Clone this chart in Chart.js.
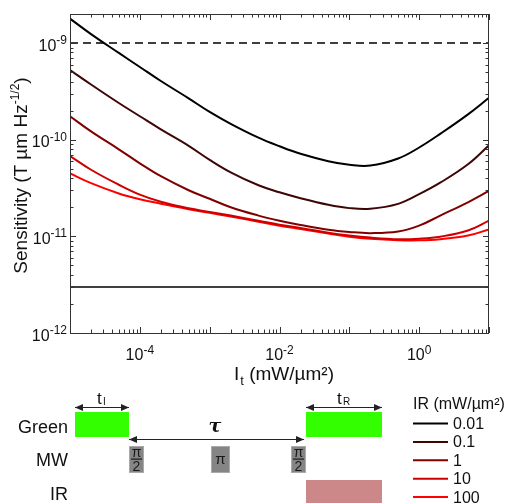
<!DOCTYPE html>
<html>
<head>
<meta charset="utf-8">
<script src="https://cdn.jsdelivr.net/npm/chart.js@4"></script>
<style>
  body { margin: 0; background: #fff; }
  #chart { display: block; }
</style>
</head>
<body>
<canvas id="chart" width="511" height="503"></canvas>
<script>
const intensity = [1e-5, 2e-5, 5e-5, 1e-4, 2e-4, 5e-4, 1e-3, 2e-3, 5e-3, 1e-2, 2e-2, 5e-2, 0.1, 0.2, 0.5, 1, 2, 5, 10];

// Sensibilité (T µm Hz^-1/2) pour chaque puissance IR
const sens001 = [1.79e-9, 1.24e-9, 7.91e-10, 5.66e-10, 4.05e-10, 2.68e-10, 1.94e-10, 1.46e-10, 1.05e-10, 8.55e-11, 7.15e-11, 6.0e-11, 5.51e-11, 5.40e-11, 6.39e-11, 8.31e-11, 1.15e-10, 1.83e-10, 2.72e-10];
const sens01 = [5.27e-10, 3.73e-10, 2.40e-10, 1.75e-10, 1.28e-10, 8.65e-11, 6.19e-11, 4.60e-11, 3.38e-11, 2.86e-11, 2.48e-11, 2.12e-11, 1.96e-11, 1.93e-11, 2.17e-11, 2.73e-11, 3.59e-11, 5.57e-11, 8.75e-11];
const sens1 = [1.75e-10, 1.22e-10, 7.96e-11, 5.70e-11, 4.19e-11, 3.00e-11, 2.45e-11, 2.00e-11, 1.64e-11, 1.45e-11, 1.31e-11, 1.17e-11, 1.11e-11, 1.08e-11, 1.12e-11, 1.29e-11, 1.64e-11, 2.25e-11, 2.95e-11];
const sens10 = [6.79e-11, 4.89e-11, 3.42e-11, 2.70e-11, 2.28e-11, 1.95e-11, 1.79e-11, 1.64e-11, 1.45e-11, 1.32e-11, 1.22e-11, 1.09e-11, 1.02e-11, 9.71e-12, 9.35e-12, 9.46e-12, 9.93e-12, 1.15e-11, 1.45e-11];
const sens100 = [4.47e-11, 3.55e-11, 2.78e-11, 2.42e-11, 2.18e-11, 1.91e-11, 1.75e-11, 1.60e-11, 1.42e-11, 1.29e-11, 1.19e-11, 1.07e-11, 9.93e-12, 9.46e-12, 9.14e-12, 9.10e-12, 9.35e-12, 1.02e-11, 1.18e-11];

// Lignes horizontales : seuil (tirets) et plancher
const limitX = [1e-5, 10];
const thresholdY = [1e-9, 1e-9];
const floorY = [3e-12, 3e-12];

const irLabels = ["0.01", "0.1", "1", "10", "100"];
const irColors = ["#000000", "#3d0606", "#800000", "#cc0000", "#ff0000"];
const series = [sens001, sens01, sens1, sens10, sens100];

// Graduations
const xTickExps = [-4, -2, 0];
const yTickExps = [-12, -11, -10, -9];

const FONT = 'Arial, "Liberation Sans", sans-serif';

function pts(xs, ys) {
    return xs.map((x, i) => ({ x: x, y: ys[i] }));
}

const datasets = series.map((s, i) => ({
    label: irLabels[i],
    data: pts(intensity, s),
    borderColor: irColors[i],
    borderWidth: 2,
    pointRadius: 0,
    tension: 0.4,
}));
datasets.push({
    label: "seuil",
    data: pts(limitX, thresholdY),
    borderColor: "#000",
    borderWidth: 1.5,
    borderDash: [8, 5],
    pointRadius: 0,
});
datasets.push({
    label: "plancher",
    data: pts(limitX, floorY),
    borderColor: "#000",
    borderWidth: 1.5,
    pointRadius: 0,
});

// texte "10" + exposant
function drawPow(ctx, exp, x, y, align) {
    ctx.font = "16px " + FONT;
    const wBase = ctx.measureText("10").width;
    ctx.font = "12px " + FONT;
    const sup = String(exp);
    const wSup = ctx.measureText(sup).width;
    let x0 = align === "right" ? x - wBase - wSup : x - (wBase + wSup) / 2;
    ctx.textAlign = "left";
    ctx.textBaseline = "alphabetic";
    ctx.font = "16px " + FONT;
    ctx.fillText("10", x0, y);
    ctx.font = "12px " + FONT;
    ctx.fillText(sup, x0 + wBase, y - 6.5);
}

function arrowHead(ctx, x, y, dir) {
    ctx.beginPath();
    ctx.moveTo(x, y);
    ctx.lineTo(x - dir * 8, y - 3.5);
    ctx.lineTo(x - dir * 8, y + 3.5);
    ctx.closePath();
    ctx.fill();
}

function arrow(ctx, x1, x2, y) {
    ctx.strokeStyle = "#222";
    ctx.fillStyle = "#222";
    ctx.lineWidth = 1;
    ctx.beginPath();
    ctx.moveTo(x1, y + 0.5);
    ctx.lineTo(x2, y + 0.5);
    ctx.stroke();
    arrowHead(ctx, x2, y + 0.5, 1);
    arrowHead(ctx, x1, y + 0.5, -1);
}

function pulse(ctx, x, w, frac) {
    ctx.fillStyle = "#858585";
    ctx.fillRect(x, 446, w, 27);
    ctx.strokeStyle = "#aaa";
    ctx.lineWidth = 1;
    ctx.strokeRect(x + 0.5, 446.5, w - 1, 26);
    ctx.fillStyle = "#1a1a1a";
    ctx.textAlign = "center";
    ctx.textBaseline = "alphabetic";
    const cx = x + w / 2;
    if (frac) {
        ctx.font = "14px " + FONT;
        ctx.fillText("π", cx, 457);
        ctx.fillRect(cx - 5.5, 458.5, 11, 1.2);
        ctx.fillText("2", cx, 471);
    } else {
        ctx.font = "15px " + FONT;
        ctx.fillText("π", cx, 464);
    }
}

const decorPlugin = {
    id: "decor",
    afterDraw(chart) {
        const { ctx, chartArea: a, scales: { x, y } } = chart;
        ctx.save();

        // cadre
        ctx.strokeStyle = "#333";
        ctx.lineWidth = 1;
        ctx.strokeRect(a.left + 0.5, a.top + 0.5, a.right - a.left - 1, a.bottom - a.top);

        // graduations vers l'intérieur
        ctx.beginPath();
        for (let k = -5; k <= 1; k++) {
            for (let m = 1; m <= 9; m++) {
                const v = m * Math.pow(10, k);
                if (v < x.min * 0.999 || v > x.max * 1.001) continue;
                const px = Math.round(x.getPixelForValue(v)) + 0.5;
                const len = m === 1 ? 6 : 3.5;
                ctx.moveTo(px, a.bottom); ctx.lineTo(px, a.bottom - len);
                ctx.moveTo(px, a.top); ctx.lineTo(px, a.top + len);
            }
        }
        for (let k = -12; k <= -9; k++) {
            for (let m = 1; m <= 9; m++) {
                const v = m * Math.pow(10, k);
                if (v < y.min * 0.999 || v > y.max * 1.001) continue;
                const py = Math.round(y.getPixelForValue(v)) + 0.5;
                const len = m === 1 ? 6 : 3.5;
                ctx.moveTo(a.left, py); ctx.lineTo(a.left + len, py);
                ctx.moveTo(a.right, py); ctx.lineTo(a.right - len, py);
            }
        }
        ctx.stroke();

        // étiquettes
        ctx.fillStyle = "#111";
        xTickExps.forEach((e) => {
            drawPow(ctx, e, x.getPixelForValue(Math.pow(10, e)), a.bottom + 27, "center");
        });
        yTickExps.forEach((e) => {
            drawPow(ctx, e, a.left - 3, y.getPixelForValue(Math.pow(10, e)) + 7.5, "right");
        });

        // titre axe x : I_t (mW/µm²)
        ctx.font = "19px " + FONT;
        const wI = ctx.measureText("I").width;
        ctx.font = "13px " + FONT;
        const wt = ctx.measureText("t").width;
        ctx.font = "19px " + FONT;
        const rest = " (mW/µm²)";
        const wr = ctx.measureText(rest).width;
        let xs = (a.left + a.right) / 2 - (wI + wt + wr) / 2 + 4;
        ctx.textAlign = "left";
        ctx.fillText("I", xs, 380);
        ctx.font = "13px " + FONT;
        ctx.fillText("t", xs + wI + 1, 385);
        ctx.font = "19px " + FONT;
        ctx.fillText(rest, xs + wI + wt + 1, 380);

        // titre axe y
        ctx.save();
        ctx.translate(27, (a.top + a.bottom) / 2 + 2);
        ctx.rotate(-Math.PI / 2);
        const p1 = "Sensitivity (T µm Hz";
        const p2 = "-1/2";
        const p3 = ")";
        ctx.font = "19px " + FONT;
        const w1 = ctx.measureText(p1).width;
        const w3 = ctx.measureText(p3).width;
        ctx.font = "12px " + FONT;
        const w2 = ctx.measureText(p2).width;
        let s = -(w1 + w2 + w3) / 2;
        ctx.font = "19px " + FONT;
        ctx.fillText(p1, s, 0);
        ctx.font = "12px " + FONT;
        ctx.fillText(p2, s + w1, -8);
        ctx.font = "19px " + FONT;
        ctx.fillText(p3, s + w1 + w2, 0);
        ctx.restore();

        // schéma de la séquence
        ctx.font = "18px " + FONT;
        ctx.textAlign = "right";
        ctx.fillStyle = "#111";
        ctx.fillText("Green", 68, 433);
        ctx.fillText("MW", 68, 466);
        ctx.fillText("IR", 68, 500);

        ctx.fillStyle = "#33ff00";
        ctx.fillRect(75, 412, 54, 25);
        ctx.fillRect(306, 412, 76, 25);
        ctx.fillStyle = "#cc8888";
        ctx.fillRect(306, 480, 76, 23);

        arrow(ctx, 75, 129, 407);
        arrow(ctx, 306, 382, 407);
        arrow(ctx, 129, 304, 439);

        ctx.fillStyle = "#111";
        ctx.textAlign = "left";
        ctx.font = "17px " + FONT;
        ctx.fillText("t", 97, 404);
        ctx.fillText("t", 337, 404);
        ctx.font = "10px " + FONT;
        ctx.fillText("I", 103, 405);
        ctx.fillText("R", 343, 405);
        ctx.font = "bold italic 19px 'DejaVu Serif', serif";
        ctx.textAlign = "center";
        ctx.fillText("τ", 215, 432);

        pulse(ctx, 129, 15, true);
        pulse(ctx, 211, 19, false);
        pulse(ctx, 291, 15, true);

        // légende
        ctx.fillStyle = "#111";
        ctx.textAlign = "left";
        ctx.font = "16px " + FONT;
        ctx.fillText("IR (mW/µm²)", 413, 409);
        irLabels.forEach((lab, i) => {
            const ly = 423.5 + i * 18.4;
            ctx.strokeStyle = irColors[i];
            ctx.lineWidth = 2;
            ctx.beginPath();
            ctx.moveTo(413, ly);
            ctx.lineTo(448, ly);
            ctx.stroke();
            ctx.fillStyle = "#111";
            ctx.textBaseline = "middle";
            ctx.fillText(lab, 453, ly + 1);
        });

        ctx.restore();
    },
};

new Chart(document.getElementById("chart").getContext("2d"), {
    type: "line",
    data: { datasets: datasets },
    options: {
        responsive: false,
        animation: false,
        layout: { padding: { left: 70, right: 22, top: 14, bottom: 170 } },
        plugins: {
            legend: { display: false },
            tooltip: { enabled: false },
        },
        scales: {
            x: { type: "logarithmic", min: 1e-5, max: 10, display: false },
            y: { type: "logarithmic", min: 1e-12, max: 2e-9, display: false },
        },
    },
    plugins: [decorPlugin],
});
</script>
</body>
</html>
